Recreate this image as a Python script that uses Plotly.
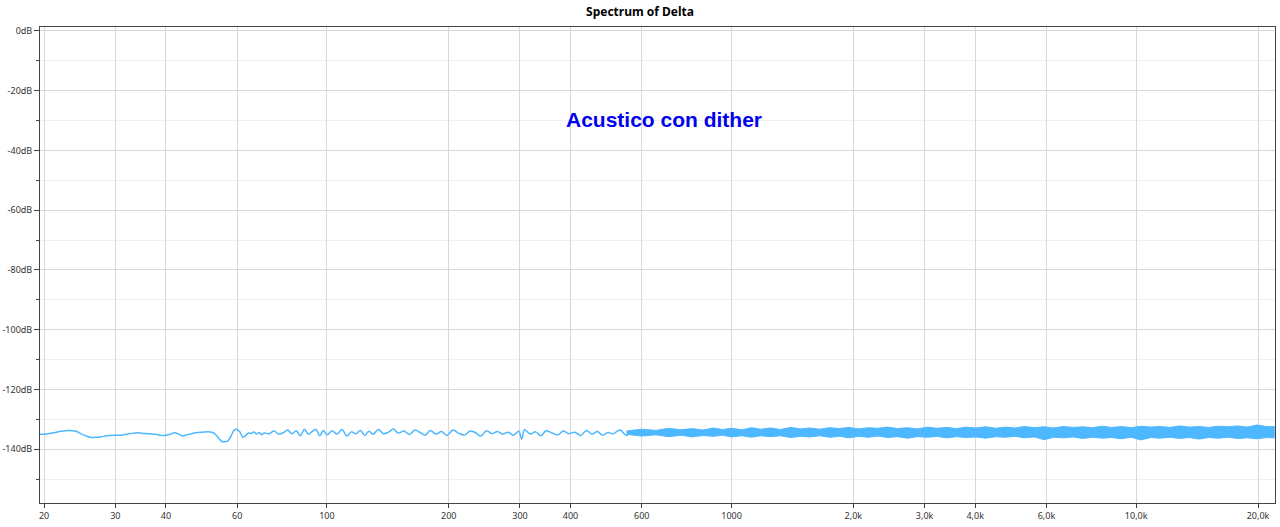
import plotly.graph_objects as go

# smooth low-frequency part of the delta spectrum (Hz, dB)
low_freq = [19.5, 20, 21, 22, 23, 24, 25, 26, 27, 28, 29, 30, 31, 32, 33, 34, 35, 36, 37, 38,
            39, 40, 41, 42, 43, 44, 45, 46, 47, 48, 50, 52, 53, 54, 55, 56, 57, 58, 59, 60,
            61, 62, 63, 64, 65, 66, 67, 68, 69, 70, 72, 74, 76, 78, 80, 82, 84, 86, 88, 90,
            92, 94, 96, 98, 100, 103, 106, 109, 112, 115, 118, 121, 124, 127, 130, 134, 138,
            142, 146, 150, 155, 160, 165, 170, 175, 180, 186, 192, 198, 205, 212, 219, 226,
            233, 240, 248, 256, 264, 272, 280, 289, 298, 303, 308, 318, 328, 338, 348, 360,
            372, 384, 396, 410, 424, 438, 452, 466, 480, 495, 510, 530, 550, 570, 590]
low_db = [-135.0, -135.0, -134.6, -134.0, -133.7, -134.0, -135.2, -136.0, -136.0, -135.7,
          -135.4, -135.3, -135.3, -135.0, -134.7, -134.5, -134.7, -134.8, -134.9, -135.1,
          -135.4, -135.3, -135.0, -134.5, -134.9, -135.5, -135.2, -134.9, -134.6, -134.4,
          -134.2, -134.3, -135.0, -136.3, -137.4, -137.5, -137.2, -135.5, -133.6, -133.4,
          -134.3, -136.0, -135.4, -134.6, -134.7, -134.2, -134.9, -134.4, -135.2, -134.6,
          -134.8, -133.9, -134.9, -134.5, -133.6, -134.8, -133.8, -135.5, -133.3, -135.0,
          -134.0, -133.4, -135.5, -133.7, -135.2, -133.8, -134.9, -133.4, -135.6, -134.2,
          -134.8, -133.7, -135.4, -134.0, -135.0, -133.4, -134.8, -134.3, -133.2, -134.6,
          -133.9, -135.1, -133.6, -134.4, -135.3, -133.7, -134.9, -134.1, -135.4, -133.6,
          -134.7, -135.2, -133.9, -134.5, -135.6, -133.8, -134.8, -134.1, -135.0, -134.3,
          -135.3, -134.0, -136.6, -133.5, -134.9, -134.2, -135.5, -133.8, -134.6, -135.2,
          -133.9, -134.8, -134.3, -135.4, -133.7, -134.9, -134.1, -135.3, -134.4, -134.8,
          -133.6, -135.4, -133.9, -135.1]

# noise band above ~550 Hz: upper / lower envelope (Hz, dB)
band_freq = [550, 600, 650, 700, 750, 800, 850, 900, 950, 1000, 1060, 1120, 1180, 1250, 1320,
             1400, 1480, 1560, 1650, 1750, 1850, 1950, 2060, 2180, 2300, 2430, 2570, 2720,
             2880, 3050, 3220, 3400, 3600, 3800, 4020, 4250, 4500, 4750, 5020, 5300, 5600,
             5920, 6250, 6600, 6980, 7380, 7800, 8240, 8700, 9200, 9720, 10270, 10850, 11470,
             12120, 12800, 13530, 14300, 15100, 15960, 16860, 17820, 18830, 19900, 21000,
             22000]
band_upper = [-133.9, -133.3, -133.7, -133.0, -133.5, -133.1, -133.6, -132.9, -133.4, -133.0,
              -133.5, -132.8, -133.3, -132.9, -133.4, -132.7, -133.2, -132.9, -133.3, -132.8,
              -133.1, -132.7, -133.2, -132.8, -133.0, -132.6, -133.1, -132.8, -133.2, -132.6,
              -133.0, -132.7, -133.1, -132.6, -132.9, -132.5, -133.0, -132.6, -132.9, -132.4,
              -132.8, -132.5, -132.9, -132.4, -132.7, -132.5, -132.8, -132.3, -132.7, -132.4,
              -132.8, -132.3, -132.6, -132.4, -132.7, -132.2, -132.6, -132.4, -132.7, -132.3,
              -132.5, -132.2, -132.6, -131.9, -132.4, -132.5]
band_lower = [-135.0, -135.6, -135.2, -135.8, -135.3, -135.9, -135.4, -135.7, -135.3, -135.9,
              -135.5, -136.0, -135.5, -135.8, -135.5, -136.1, -135.7, -135.9, -135.5, -136.0,
              -135.7, -136.2, -135.7, -136.0, -135.6, -136.1, -135.8, -136.3, -135.8, -136.0,
              -135.7, -136.2, -135.8, -136.1, -135.9, -136.3, -135.8, -136.0, -135.7, -136.2,
              -135.9, -136.8, -136.0, -136.2, -135.9, -136.4, -136.0, -136.3, -136.1, -136.5,
              -136.0, -136.9, -136.1, -136.3, -136.0, -136.4, -136.1, -136.6, -136.1, -136.3,
              -136.0, -136.4, -136.2, -136.5, -136.1, -136.2]

x_ticks = [20, 30, 40, 60, 100, 200, 300, 400, 600, 1000, 2000, 3000, 4000, 6000, 10000, 20000]
x_labels = ['20', '30', '40', '60', '100', '200', '300', '400', '600', '1000',
            '2,0k', '3,0k', '4,0k', '6,0k', '10,0k', '20,0k']
y_ticks = [0, -20, -40, -60, -80, -100, -120, -140]
y_labels = ['0dB', '-20dB', '-40dB', '-60dB', '-80dB', '-100dB', '-120dB', '-140dB']

line_color = '#4db8ff'

fig = go.Figure()
fig.add_trace(go.Scatter(x=band_freq, y=band_lower, mode='lines',
                         line=dict(color=line_color, width=1), hoverinfo='skip'))
fig.add_trace(go.Scatter(x=band_freq, y=band_upper, mode='lines', fill='tonexty',
                         fillcolor=line_color, line=dict(color=line_color, width=1)))
fig.add_trace(go.Scatter(x=low_freq, y=low_db, mode='lines',
                         line=dict(color=line_color, width=1.5, shape='spline')))

fig.add_annotation(text='<b>Acustico con dither</b>', x=0.505, y=0.835,
                   xref='paper', yref='paper', showarrow=False,
                   font=dict(family='Arial, Liberation Sans', size=21, color='#0000ee'))

fig.update_xaxes(type='log', range=[1.291, 4.343], tickvals=x_ticks, ticktext=x_labels,
                 showgrid=True, gridcolor='#d9d9d9', gridwidth=1, automargin=False,
                 showline=True, linecolor='#444', mirror=True,
                 ticks='outside', ticklen=4, tickcolor='#444',
                 tickfont=dict(size=9, color='#333'), zeroline=False)
fig.update_yaxes(range=[-158, 1.3], tickvals=y_ticks, ticktext=y_labels,
                 showgrid=True, gridcolor='#d9d9d9', gridwidth=1, automargin=False,
                 showline=True, linecolor='#444', mirror=True,
                 ticks='outside', ticklen=5, tickcolor='#444',
                 minor=dict(dtick=10, showgrid=True, gridcolor='#f0f0f0',
                            ticks='outside', ticklen=3, tickcolor='#444'),
                 tickfont=dict(size=9, color='#333'), zeroline=False)

fig.update_layout(
    title=dict(text='<b>Spectrum of Delta</b>', x=0.5, y=0.985, yanchor='top',
               font=dict(family='Segoe UI, Noto Sans', size=12, color='#000')),
    width=1280, height=527, showlegend=False,
    plot_bgcolor='white', paper_bgcolor='white',
    margin=dict(l=40, r=5, t=27, b=24, autoexpand=False),
    font=dict(family='Segoe UI, Noto Sans'),
)

# drop the default page margin so the figure sits at the window corner
fig.write_html('out.html', config={'displayModeBar': False},
               post_script="document.body.style.margin='0';")
